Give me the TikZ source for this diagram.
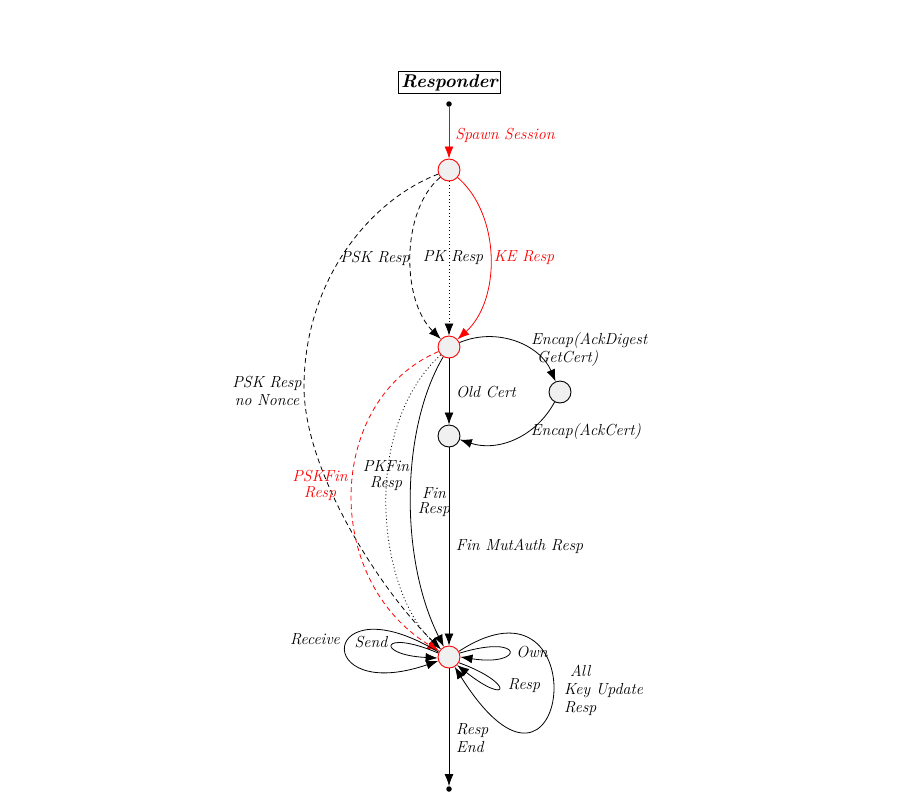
\documentclass[tikz,border=0pt]{standalone}
\usetikzlibrary{arrows.meta}
\begin{document}
\begin{tikzpicture}[x=1pt,y=-1pt,
  every node/.style={font=\fontsize{16}{18}\selectfont\itshape},
  st/.style={circle,draw=black,fill=black!6,minimum size=22pt,inner sep=0pt,line width=0.9pt},
  rst/.style={st,draw=red},
  dotn/.style={circle,fill=black,inner sep=0pt,minimum size=5.5pt},
  lbl/.style={inner sep=0pt},
  arr/.style={-{Latex[length=12pt,width=9pt]},line width=0.8pt},
  dsh/.style={dash pattern=on 5pt off 3.5pt},
  dtd/.style={dash pattern=on 1pt off 2.5pt},
]
\useasboundingbox (0,0) rectangle (907,798);
% title
\node[draw,line width=0.8pt,inner sep=3pt,font=\fontsize{18.5}{20}\selectfont\bfseries\itshape] (title) at (449.5,82.5) {Responder};
% states
\node[dotn] (s) at (449,104) {};
\node[rst] (n1) at (449,170) {};
\node[rst] (n2) at (449,347) {};
\node[st] (n3) at (560,392) {};
\node[st] (n4) at (449,436) {};
\node[rst] (n5) at (449,657) {};
\node[dotn] (e) at (449,789) {};
\coordinate (pskp) at (304,385);
% edges
\draw[arr,red] (s) -- (n1);
\node[lbl,red] (lspawn) at (505,135) {Spawn Session};

\draw[arr,red] (n1) .. controls (501,215) and (501,300) .. (n2);
\node[lbl,red] (lke) at (524,258) {KE Resp};

\draw[arr,dtd] (n1) -- (n2);
\node[lbl] (lpk) at (453,258) {PK Resp};

\draw[arr,dsh] (n1) .. controls (401,210) and (401,300) .. (n2);
\node[lbl] (lpsk) at (375,258) {PSK Resp};

\draw[arr,dsh] (n1) .. controls (370,200) and (305,280) .. (pskp)
                    .. controls (303,470) and (380,590) .. (n5);
\node[lbl,align=center] (lpsknn) at (267,391) {PSK Resp\\no Nonce};

\draw[arr] (n2) to[bend left=45] (n3);
\node[lbl,align=left,anchor=west] (lencap1) at (531,350) {Encap(AckDigest\\\hspace{6pt}GetCert)};

\draw[arr] (n3) to[bend left=40] (n4);
\node[lbl] (lencap2) at (586,432) {Encap(AckCert)};

\draw[arr] (n2) -- (n4);
\node[lbl] (lold) at (486,392) {Old Cert};

\draw[arr] (n4) -- (n5);
\node[lbl] (lmut) at (519.5,546) {Fin MutAuth Resp};

\draw[arr] (n2) .. controls (400,430) and (400,560) .. (n5);
\node[lbl,align=center,font=\fontsize{16}{14.5}\selectfont\itshape] (lfin) at (434,502) {Fin\\Resp};

\draw[arr,dtd] (n2) .. controls (360,430) and (378,590) .. (n5);
\node[lbl,align=center,font=\fontsize{16}{16}\selectfont\itshape] (lpkfin) at (386,476) {PKFin\\Resp};

\draw[arr,dsh,red] (n2) .. controls (325,400) and (322,580) .. (n5);
\node[lbl,align=center,red,font=\fontsize{16}{16}\selectfont\itshape] (lpskfin) at (320,485) {PSKFin\\Resp};

% loops
\draw[arr] (n5.155) .. controls (320,580) and (310,705) .. (n5.200);
\node[lbl] (lrecv) at (315,639) {Receive};

\draw[arr] (n5.160) .. controls (380,628) and (375,655) .. (n5.185);
\node[lbl] (lsend) at (371,642) {Send};

\draw[arr] (n5.20) .. controls (525,633) and (525,667) .. (n5.0);
\node[lbl] (lown) at (532,652) {Own};

\draw[arr] (n5.330) .. controls (515,683) and (510,707) .. (n5.315);
\node[lbl] (lresp) at (524,686) {Resp};

\draw[arr] (n5.30) .. controls (600,560) and (570,850) .. (n5.300);
\node[lbl,align=left,anchor=west] (lall) at (564,690) {\hspace{6pt}All\\Key Update\\Resp};

\draw[arr] (n5) -- (e);
\node[lbl,align=left,anchor=west] (lend) at (456,738) {Resp\\End};
\end{tikzpicture}
\end{document}
